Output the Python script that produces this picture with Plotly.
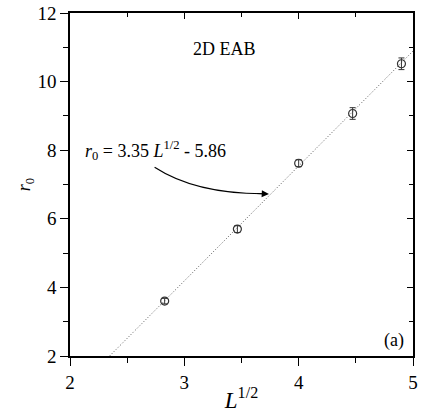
import plotly.graph_objects as go

L_sqrt = [2.828, 3.464, 4.0, 4.472, 4.899]
r0 = [3.60, 5.70, 7.62, 9.07, 10.52]
r0_err = [0.08, 0.10, 0.10, 0.17, 0.17]
slope, intercept = 3.35, -5.86
fit_x = [(2 - intercept) / slope, 5.0]
fit_y = [slope * x + intercept for x in fit_x]

font = "Liberation Serif, Times New Roman, Tinos, DejaVu Serif, serif"
fig = go.Figure()
fig.add_trace(go.Scatter(x=fit_x, y=fit_y, mode="lines",
                         line=dict(color="#555", width=1, dash="1px,2px"), showlegend=False))
fig.add_trace(go.Scatter(x=L_sqrt, y=r0, mode="markers",
                         marker=dict(symbol="circle-open", size=8, color="#333", line=dict(width=1.2)),
                         error_y=dict(type="data", array=r0_err, color="#333", thickness=1, width=3),
                         showlegend=False))

fig.add_trace(go.Scatter(x=[2], y=[2], xaxis="x2", yaxis="y2", mode="markers",
                         marker=dict(opacity=0), showlegend=False, hoverinfo="skip"))

ax_common = dict(showgrid=False, zeroline=False, linecolor="black", linewidth=1.5,
                 tickcolor="black", tickwidth=1.2, automargin=False)
fig.update_layout(
    width=436, height=417, plot_bgcolor="white", paper_bgcolor="white",
    margin=dict(l=70, r=23, t=13, b=61),
    font=dict(family=font, size=19, color="black"),
    xaxis=dict(range=[2, 5], tickvals=[2, 3, 4, 5], ticks="outside", ticklen=8,
               minor=dict(tickvals=[2.5, 3.5, 4.5], ticks="outside", ticklen=5, tickcolor="black"),
               title=dict(text="<i>L</i><sup>1/2</sup>", standoff=0), **ax_common),
    yaxis=dict(range=[2, 12], tickvals=[2, 4, 6, 8, 10, 12], ticks="outside", ticklen=8,
               minor=dict(tickvals=[3, 5, 7, 9, 11], ticks="outside", ticklen=5, tickcolor="black"),
               title=dict(text="<i>r</i><sub>0</sub>", standoff=2, font=dict(size=18)), **ax_common),
    xaxis2=dict(range=[2, 5], overlaying="x", side="top", tickvals=[2, 3, 4, 5], ticks="inside",
                ticklen=6, showticklabels=False,
                minor=dict(tickvals=[2.5, 3.5, 4.5], ticks="inside", ticklen=4, tickcolor="black"),
                **ax_common),
    yaxis2=dict(range=[2, 12], overlaying="y", side="right", tickvals=[2, 4, 6, 8, 10, 12],
                ticks="inside", ticklen=6, showticklabels=False,
                minor=dict(tickvals=[3, 5, 7, 9, 11], ticks="inside", ticklen=4, tickcolor="black"),
                **ax_common),
)

fig.add_annotation(x=3.35, y=10.95, text="2D EAB", showarrow=False, font=dict(size=18))
fig.add_annotation(x=4.83, y=2.44, text="(a)", showarrow=False, font=dict(size=18))
fig.add_annotation(x=2.11, y=8.0, xanchor="left",
                   text="<i>r</i><sub>0</sub> = 3.35 <i>L</i><sup>1/2</sup> - 5.86",
                   showarrow=False, font=dict(size=18))
fig.add_shape(type="path", path="M 2.74,7.5 Q 3.1,6.72 3.70,6.73",
              line=dict(color="black", width=1.2), xref="x", yref="y")
fig.add_annotation(x=3.74, y=6.72, ax=3.62, ay=6.74, xref="x", yref="y", axref="x", ayref="y",
                   text="", showarrow=True, arrowhead=2, arrowsize=1.2, arrowwidth=1.2, arrowcolor="black")

fig.write_html("out.html", config={"displayModeBar": False},
               post_script="document.body.style.margin='0';")
